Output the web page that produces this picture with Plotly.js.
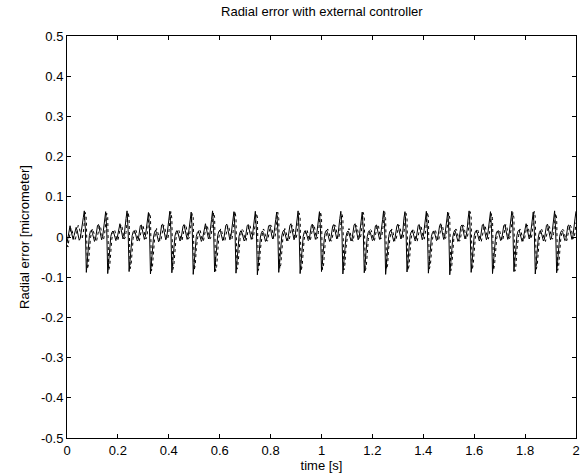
<!DOCTYPE html>
<html>
<head>
<meta charset="utf-8">
<script src="https://cdn.plot.ly/plotly-3.0.1.min.js"></script>
<style>html,body{margin:0;padding:0;background:#fff;}#chart{width:583px;height:476px;}</style>
</head>
<body>
<div id="chart"></div>
<script>
// Sampling of the time axis (seconds)
var t0 = 0;
var dt = 0.004;

// Radial error, solid curve [micrometer], one row per spindle revolution
var solidError = [
  -0.015,0.004,0.022,0.028,0.015,0.000,-0.006,0.004,0.018,0.024,0.016,0.002,-0.008,-0.004,0.010,0.030,0.048,0.065,0.022,
  -0.088,-0.058,-0.018,0.004,0.014,0.017,0.009,-0.003,-0.011,-0.005,0.013,0.029,0.031,0.019,0.003,-0.007,0.001,0.019,0.044,0.063,0.021,
  -0.091,-0.061,-0.021,0.001,0.011,0.015,0.010,-0.001,-0.009,-0.006,0.011,0.027,0.033,0.021,0.005,-0.005,0.000,0.017,0.046,0.065,0.019,
  -0.086,-0.057,-0.019,0.003,0.013,0.016,0.011,-0.002,-0.010,-0.007,0.012,0.028,0.030,0.020,0.004,-0.006,0.002,0.018,0.043,0.061,0.022,
  -0.092,-0.062,-0.022,0.000,0.012,0.017,0.009,-0.003,-0.012,-0.006,0.014,0.030,0.032,0.018,0.003,-0.007,-0.001,0.019,0.047,0.064,0.018,
  -0.089,-0.059,-0.020,0.002,0.012,0.016,0.010,-0.002,-0.010,-0.005,0.012,0.027,0.031,0.021,0.005,-0.006,0.001,0.018,0.045,0.062,0.020,
  -0.093,-0.063,-0.021,0.001,0.011,0.014,0.008,-0.004,-0.011,-0.006,0.011,0.028,0.033,0.020,0.004,-0.005,0.000,0.017,0.044,0.065,0.021,
  -0.087,-0.058,-0.019,0.003,0.013,0.017,0.011,-0.001,-0.009,-0.005,0.013,0.029,0.032,0.019,0.003,-0.007,0.001,0.019,0.046,0.063,0.019,
  -0.090,-0.060,-0.020,0.002,0.012,0.016,0.010,-0.002,-0.010,-0.006,0.012,0.028,0.031,0.020,0.004,-0.006,0.000,0.018,0.045,0.064,0.020,
  -0.094,-0.064,-0.023,0.000,0.011,0.015,0.009,-0.003,-0.011,-0.007,0.011,0.027,0.030,0.021,0.005,-0.005,0.002,0.017,0.043,0.062,0.022,
  -0.088,-0.059,-0.019,0.003,0.013,0.017,0.010,-0.002,-0.010,-0.005,0.013,0.029,0.033,0.019,0.003,-0.007,0.000,0.019,0.047,0.065,0.018,
  -0.091,-0.061,-0.021,0.001,0.012,0.016,0.011,-0.001,-0.009,-0.006,0.012,0.028,0.032,0.020,0.004,-0.006,0.001,0.018,0.044,0.063,0.021,
  -0.086,-0.057,-0.018,0.004,0.014,0.017,0.009,-0.003,-0.011,-0.006,0.011,0.027,0.031,0.021,0.005,-0.005,0.000,0.017,0.046,0.064,0.020,
  -0.092,-0.062,-0.022,0.000,0.011,0.015,0.010,-0.002,-0.010,-0.005,0.013,0.030,0.033,0.019,0.003,-0.007,-0.001,0.019,0.045,0.062,0.019,
  -0.089,-0.060,-0.020,0.002,0.012,0.016,0.011,-0.001,-0.009,-0.007,0.012,0.028,0.030,0.020,0.004,-0.006,0.002,0.018,0.043,0.065,0.022,
  -0.093,-0.063,-0.021,0.001,0.013,0.017,0.009,-0.003,-0.011,-0.006,0.011,0.027,0.032,0.021,0.005,-0.005,0.000,0.017,0.047,0.063,0.018,
  -0.087,-0.058,-0.019,0.003,0.012,0.016,0.010,-0.002,-0.010,-0.005,0.013,0.029,0.031,0.019,0.003,-0.007,0.001,0.019,0.044,0.064,0.021,
  -0.090,-0.061,-0.020,0.002,0.011,0.015,0.011,-0.001,-0.009,-0.006,0.012,0.028,0.033,0.020,0.004,-0.006,0.000,0.018,0.046,0.062,0.020,
  -0.094,-0.064,-0.023,0.000,0.012,0.017,0.009,-0.003,-0.011,-0.007,0.011,0.027,0.030,0.021,0.005,-0.005,0.002,0.017,0.045,0.065,0.019,
  -0.088,-0.059,-0.019,0.003,0.013,0.016,0.010,-0.002,-0.010,-0.005,0.013,0.030,0.032,0.019,0.003,-0.007,0.000,0.019,0.043,0.063,0.022,
  -0.091,-0.061,-0.021,0.001,0.012,0.015,0.011,-0.001,-0.009,-0.006,0.012,0.028,0.031,0.020,0.004,-0.006,0.001,0.018,0.047,0.064,0.020,
  -0.086,-0.057,-0.018,0.004,0.014,0.017,0.009,-0.003,-0.011,-0.006,0.011,0.027,0.033,0.021,0.005,-0.005,0.000,0.017,0.044,0.062,0.021,
  -0.092,-0.062,-0.022,0.000,0.011,0.016,0.010,-0.002,-0.010,-0.005,0.013,0.029,0.032,0.019,0.003,-0.007,-0.001,0.019,0.046,0.065,0.018,
  -0.089,-0.060,-0.020,0.002,0.012,0.016,0.011,-0.001,-0.009,-0.007,0.012,0.028,0.030,0.020,0.004,-0.006,0.002,0.018,0.045,0.064
];

// Radial error, dotted curve [micrometer]
var dottedError = [
  -0.020,-0.025,-0.004,0.012,0.022,0.016,0.003,-0.007,-0.009,0.005,0.021,0.029,0.025,0.009,-0.005,-0.003,0.011,0.036,0.061,0.046,
  -0.080,-0.069,-0.029,-0.004,0.011,0.021,0.014,0.001,-0.008,-0.011,0.005,0.021,0.029,0.025,0.011,-0.003,-0.005,0.009,0.034,0.059,0.049,
  -0.083,-0.071,-0.031,-0.006,0.009,0.019,0.016,0.003,-0.007,-0.009,0.003,0.019,0.031,0.027,0.009,-0.005,-0.003,0.011,0.036,0.062,0.047,
  -0.079,-0.068,-0.028,-0.004,0.010,0.020,0.015,0.002,-0.009,-0.010,0.004,0.020,0.030,0.026,0.010,-0.004,-0.004,0.010,0.035,0.060,0.050,
  -0.084,-0.072,-0.032,-0.005,0.011,0.021,0.014,0.001,-0.008,-0.011,0.005,0.021,0.029,0.025,0.011,-0.003,-0.005,0.009,0.037,0.063,0.046,
  -0.081,-0.070,-0.030,-0.006,0.009,0.019,0.016,0.003,-0.007,-0.009,0.003,0.019,0.031,0.027,0.009,-0.005,-0.003,0.011,0.034,0.058,0.048,
  -0.082,-0.069,-0.029,-0.004,0.010,0.020,0.015,0.002,-0.009,-0.010,0.004,0.020,0.030,0.026,0.010,-0.004,-0.004,0.010,0.036,0.061,0.049,
  -0.085,-0.073,-0.031,-0.005,0.011,0.021,0.014,0.001,-0.008,-0.011,0.005,0.021,0.029,0.025,0.011,-0.003,-0.005,0.009,0.035,0.064,0.047,
  -0.080,-0.068,-0.028,-0.006,0.009,0.019,0.016,0.003,-0.007,-0.009,0.003,0.019,0.031,0.027,0.009,-0.005,-0.003,0.011,0.034,0.059,0.050,
  -0.083,-0.071,-0.030,-0.004,0.010,0.020,0.015,0.002,-0.009,-0.010,0.004,0.020,0.030,0.026,0.010,-0.004,-0.004,0.010,0.037,0.062,0.046,
  -0.079,-0.069,-0.029,-0.005,0.011,0.021,0.014,0.001,-0.008,-0.011,0.005,0.021,0.029,0.025,0.011,-0.003,-0.005,0.009,0.035,0.060,0.048,
  -0.084,-0.072,-0.032,-0.006,0.009,0.019,0.016,0.003,-0.007,-0.009,0.003,0.019,0.031,0.027,0.009,-0.005,-0.003,0.011,0.036,0.063,0.049,
  -0.081,-0.070,-0.030,-0.004,0.010,0.020,0.015,0.002,-0.009,-0.010,0.004,0.020,0.030,0.026,0.010,-0.004,-0.004,0.010,0.034,0.058,0.047,
  -0.082,-0.069,-0.029,-0.005,0.011,0.021,0.014,0.001,-0.008,-0.011,0.005,0.021,0.029,0.025,0.011,-0.003,-0.005,0.009,0.036,0.061,0.050,
  -0.085,-0.073,-0.031,-0.006,0.009,0.019,0.016,0.003,-0.007,-0.009,0.003,0.019,0.031,0.027,0.009,-0.005,-0.003,0.011,0.035,0.064,0.046,
  -0.080,-0.068,-0.028,-0.004,0.010,0.020,0.015,0.002,-0.009,-0.010,0.004,0.020,0.030,0.026,0.010,-0.004,-0.004,0.010,0.037,0.059,0.048,
  -0.083,-0.071,-0.030,-0.005,0.011,0.021,0.014,0.001,-0.008,-0.011,0.005,0.021,0.029,0.025,0.011,-0.003,-0.005,0.009,0.034,0.062,0.049,
  -0.079,-0.069,-0.029,-0.006,0.009,0.019,0.016,0.003,-0.007,-0.009,0.003,0.019,0.031,0.027,0.009,-0.005,-0.003,0.011,0.036,0.060,0.047,
  -0.084,-0.072,-0.032,-0.004,0.010,0.020,0.015,0.002,-0.009,-0.010,0.004,0.020,0.030,0.026,0.010,-0.004,-0.004,0.010,0.035,0.063,0.050,
  -0.081,-0.070,-0.030,-0.005,0.011,0.021,0.014,0.001,-0.008,-0.011,0.005,0.021,0.029,0.025,0.011,-0.003,-0.005,0.009,0.037,0.058,0.046,
  -0.082,-0.069,-0.029,-0.006,0.009,0.019,0.016,0.003,-0.007,-0.009,0.003,0.019,0.031,0.027,0.009,-0.005,-0.003,0.011,0.034,0.061,0.048,
  -0.085,-0.073,-0.031,-0.004,0.010,0.020,0.015,0.002,-0.009,-0.010,0.004,0.020,0.030,0.026,0.010,-0.004,-0.004,0.010,0.036,0.064,0.049,
  -0.080,-0.068,-0.028,-0.005,0.011,0.021,0.014,0.001,-0.008,-0.011,0.005,0.021,0.029,0.025,0.011,-0.003,-0.005,0.009,0.035,0.059,0.047,
  -0.083,-0.071,-0.030,-0.006,0.009,0.019,0.016,0.003,-0.007,-0.009,0.003,0.019,0.031,0.027,0.009,-0.005,-0.003,0.011,0.036
];

// Tick labels
var xTickVals = [0, 0.2, 0.4, 0.6, 0.8, 1, 1.2, 1.4, 1.6, 1.8, 2];
var xTickText = ["0", "0.2", "0.4", "0.6", "0.8", "1", "1.2", "1.4", "1.6", "1.8", "2"];
var yTickVals = [-0.5, -0.4, -0.3, -0.2, -0.1, 0, 0.1, 0.2, 0.3, 0.4, 0.5];
var yTickText = ["-0.5", "-0.4", "-0.3", "-0.2", "-0.1", "0", "0.1", "0.2", "0.3", "0.4", "0.5"];

var timeSolid = solidError.map(function (v, i) { return t0 + i * dt; });
var timeDotted = dottedError.map(function (v, i) { return t0 + i * dt; });

var traces = [
  { x: timeDotted, y: dottedError, type: 'scatter', mode: 'lines',
    line: { color: '#000', width: 1, dash: 'dot' }, hoverinfo: 'skip' },
  { x: timeSolid, y: solidError, type: 'scatter', mode: 'lines',
    line: { color: '#000', width: 1 }, hoverinfo: 'skip' }
];

var fam = 'Arial, "Liberation Sans", sans-serif';
var fs = 13;

var layout = {
  width: 583, height: 476,
  margin: { l: 67, r: 7, t: 36, b: 38, pad: 0 },
  paper_bgcolor: '#fff', plot_bgcolor: '#fff',
  showlegend: false,
  title: { text: 'Radial error with external controller', x: 0.552, xanchor: 'center', y: 0.975, yanchor: 'middle',
           font: { family: fam, color: '#000', size: fs } },
  xaxis: {
    range: [0, 2], tickmode: 'array', tickvals: xTickVals, ticktext: xTickText,
    ticks: 'inside', ticklen: 4, tickcolor: '#000', mirror: 'ticks',
    showline: true, linecolor: '#000', linewidth: 1, showgrid: false, zeroline: false,
    tickfont: { family: fam, color: '#000', size: fs },
    title: { text: 'time [s]', standoff: 3, font: { family: fam, color: '#000', size: fs } }
  },
  yaxis: {
    range: [-0.5, 0.5], tickmode: 'array', tickvals: yTickVals, ticktext: yTickText,
    ticks: 'inside', ticklen: 4, tickcolor: '#000', mirror: 'ticks',
    showline: true, linecolor: '#000', linewidth: 1, showgrid: false, zeroline: false,
    tickfont: { family: fam, color: '#000', size: fs },
    title: { text: 'Radial error [micrometer]', standoff: 8, font: { family: fam, color: '#000', size: fs } }
  }
};

Plotly.newPlot('chart', traces, layout, { staticPlot: true, displayModeBar: false });
</script>
</body>
</html>
